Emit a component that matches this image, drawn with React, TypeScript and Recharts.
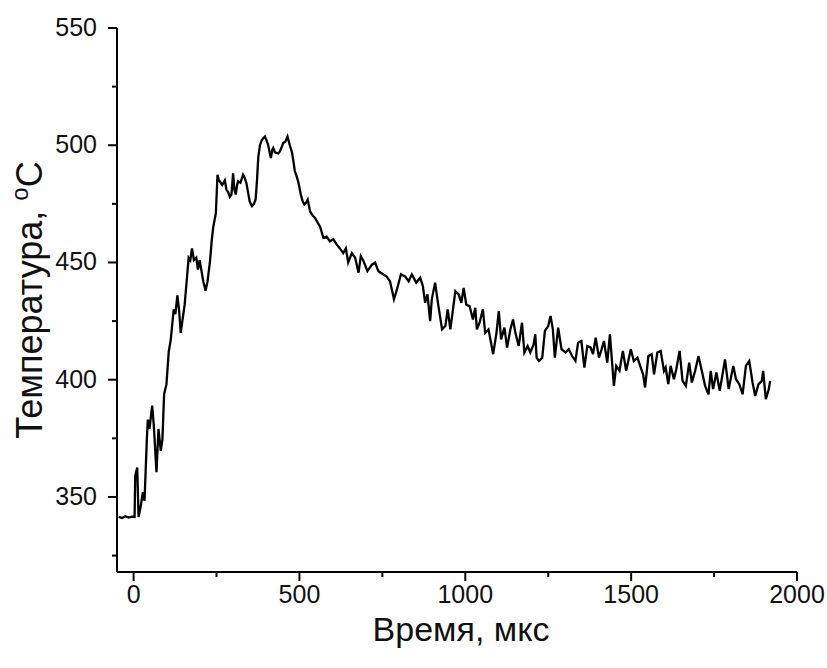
import { LineChart, Line, XAxis, YAxis } from 'recharts';

// время, мкс
const timeUs = [
  -45, -35, -25, -15, -5, 3, 5, 11, 15, 21, 28, 33, 40, 43, 48, 56, 61, 69, 75, 82, 87, 92, 99, 106, 112,
  121, 126, 132, 137, 142, 148, 154, 160, 166, 171, 176, 182, 189, 194, 199, 204, 210, 217, 223, 230, 236, 240, 248,
  253, 257, 260, 267, 271, 275, 280, 285, 290, 295, 300, 304, 308, 312, 315, 322, 330, 335, 340, 345, 350, 357,
  363, 368, 372, 376, 381, 386, 391, 396, 401, 406, 410, 414, 418, 421, 426, 431, 436, 441, 446, 451, 458, 464,
  471, 478, 482, 486, 491, 496, 500, 504, 510, 515, 520, 525, 532, 540, 547, 555, 562, 567, 572, 582, 592, 602,
  612, 622, 632, 640, 647, 658, 668, 678, 685, 693, 705, 718, 728, 738, 753, 763, 773, 785, 794, 806, 819, 829,
  839, 852, 864, 872, 879, 886, 894, 899, 909, 919, 930, 940, 947, 955, 970, 980, 988, 995, 1003, 1013, 1023,
  1030, 1035, 1043, 1053, 1060, 1070, 1084, 1094, 1101, 1108, 1118, 1126, 1136, 1144, 1151, 1161, 1171, 1178,
  1188, 1196, 1206, 1211, 1215, 1222, 1232, 1240, 1250, 1257, 1264, 1270, 1280, 1290, 1302, 1312, 1322, 1332,
  1340, 1350, 1359, 1368, 1378, 1385, 1393, 1403, 1411, 1418, 1428, 1436, 1448, 1455, 1465, 1475, 1485, 1499,
  1508, 1519, 1529, 1536, 1542, 1552, 1562, 1569, 1579, 1589, 1599, 1604, 1612, 1619, 1629, 1636, 1646, 1655,
  1665, 1675, 1683, 1693, 1703, 1713, 1723, 1733, 1740, 1747, 1757, 1767, 1773, 1783, 1794, 1801, 1808, 1816,
  1826, 1836, 1846, 1856, 1866, 1874, 1884, 1894, 1898, 1906, 1915, 1919,
];

// температура, °C
const temperature = [
  341.5, 341, 341.8, 341.2, 341.6, 341.5, 359, 362.6, 341.4, 345.6, 352, 348.4, 374.7, 383, 379, 389, 380.4, 360.6, 379, 369.7, 374.7, 393.8, 398, 412, 417,
  430, 428, 436, 430, 420, 426, 432, 442, 452, 451, 456, 451, 452, 447, 451, 447, 442, 438, 442, 450, 460, 465, 471,
  487.4, 485, 484.6, 483, 484, 485, 481, 480, 478, 479, 488, 481, 479, 483, 484.6, 484, 487.4, 486, 484, 480, 476, 474,
  475, 477, 485, 495, 500, 502, 503, 503.7, 502, 500, 497, 494.5, 498, 498.8, 497, 496.7, 496.5, 497.4, 499, 501, 501.6, 503.7,
  500, 496.7, 493, 489, 487, 484.6, 482, 479, 476, 474.7, 475.5, 476.8, 471.8, 470, 469, 467, 465.4, 463, 460.5, 461, 459, 460,
  457.7, 456, 454, 456, 450, 454, 452, 445.6, 452.7, 450.6, 446.3, 449, 450, 446.3, 444.9, 444, 442, 434.3, 438.5, 445, 444, 442,
  444.9, 441.4, 443.5, 440, 432.8, 436.4, 425, 434.3, 441.4, 431.4, 421.5, 422.9, 430, 421.5, 437.8, 436.4, 432.8, 439.2, 432, 431.4, 425.7,
  430.7, 421.5, 424.3, 430, 420, 421.5, 410.9, 420, 429.3, 417.2, 422.2, 413.7, 421.5, 425.7, 420, 414.4, 424.3, 411.6,
  414.4, 411.6, 415, 419.4, 409.4, 408, 409.4, 420.8, 422.9, 427.2, 421.5, 409.4, 422.2, 413, 411.6, 413, 410.1, 408,
  415.8, 416.5, 405.2, 414.4, 413.7, 410.9, 417.9, 409.4, 413, 416.5, 407.3, 419.4, 397.4, 405.9, 403.8, 412.3, 403.8, 413,
  408, 409.4, 405.2, 402.3, 396.7, 410.1, 410.9, 402.3, 411.6, 412.3, 403.8, 405.2, 398.1, 405.9, 400.2, 404.5, 412.3, 399.5,
  397.4, 407.3, 398.8, 403.8, 410.1, 403.8, 397.4, 393.8, 403.8, 396, 403.1, 395.3, 400.2, 408.7, 396, 401, 405.9, 400.2,
  398.1, 393.8, 405.9, 408, 398.8, 393.1, 398.1, 399.5, 403.8, 391.7, 396, 399.5,
];

const xTicks = [0, 250, 500, 750, 1000, 1250, 1500, 1750, 2000];
const yTicks = [325, 350, 375, 400, 425, 450, 475, 500, 525, 550];

const data = timeUs.map((t, i) => ({ t, temp: temperature[i] }));

const FONT = '"Liberation Sans", Arial, sans-serif';

function XTick(props: any) {
  const { x, y, payload } = props;
  const major = payload.value % 500 === 0;
  return (
    <g>
      <line x1={x} y1={y} x2={x} y2={y + (major ? 9 : 5)} stroke="#000" strokeWidth={2} />
      {major && (
        <text x={x} y={y + 31} textAnchor="middle" fontFamily={FONT} fontSize={25} fill="#111">
          {payload.value}
        </text>
      )}
    </g>
  );
}

function YTick(props: any) {
  const { x, y, payload } = props;
  const major = payload.value % 50 === 0;
  return (
    <g>
      <line x1={x} y1={y} x2={x - (major ? 9 : 5)} y2={y} stroke="#000" strokeWidth={2} />
      {major && (
        <text x={x - 20} y={y + 8} textAnchor="end" fontFamily={FONT} fontSize={25} fill="#111">
          {payload.value}
        </text>
      )}
    </g>
  );
}

function YLabel() {
  return (
    <text
      transform="translate(42, 300) rotate(-90)"
      textAnchor="middle"
      fontFamily={FONT}
      fontSize={36}
      fill="#111"
    >
      Температура, <tspan fontSize={24} dy={-14}>o</tspan>
      <tspan dy={14}>C</tspan>
    </text>
  );
}

function XLabel() {
  return (
    <text x={461} y={641} textAnchor="middle" fontFamily={FONT} fontSize={34} fill="#111">
      Время, мкс
    </text>
  );
}

export default function App() {
  return (
    <div style={{ position: 'absolute', left: 0, top: 0, width: 827, height: 668, background: '#fff' }}>
      <LineChart width={827} height={668} data={data} margin={{ top: 28, right: 30, bottom: 0, left: 0 }}>
        <XAxis
          type="number"
          dataKey="t"
          domain={[-50, 2000]}
          ticks={xTicks}
          interval={0}
          height={96}
          tickSize={0}
          tickMargin={0}
          tickLine={false}
          axisLine={{ stroke: '#000', strokeWidth: 2 }}
          tick={<XTick />}
          label={<XLabel />}
          allowDataOverflow
        />
        <YAxis
          type="number"
          domain={[318, 550]}
          ticks={yTicks}
          interval={0}
          width={117}
          tickSize={0}
          tickMargin={0}
          tickLine={false}
          axisLine={{ stroke: '#000', strokeWidth: 2 }}
          tick={<YTick />}
          label={<YLabel />}
          allowDataOverflow
        />
        <Line
          type="linear"
          dataKey="temp"
          stroke="#000"
          strokeWidth={2.3}
          dot={false}
          isAnimationActive={false}
        />
      </LineChart>
    </div>
  );
}
